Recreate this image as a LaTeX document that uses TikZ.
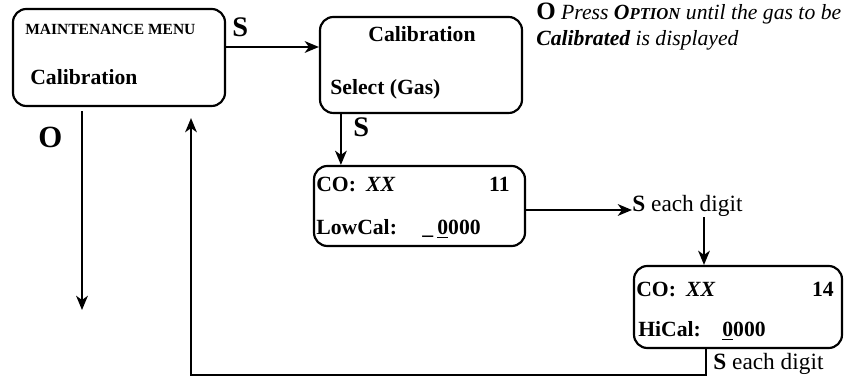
\documentclass[tikz,border=0pt]{standalone}
\usepackage{fontspec}
\setmainfont{Liberation Serif}
\usetikzlibrary{arrows.meta}

\tikzset{
  scrn/.style={draw, line width=1.3pt, rounded corners=8pt, inner sep=0pt},
  txt/.style={font=\fontsize{13}{15}\selectfont\bfseries, inner sep=0pt, anchor=base west},
  key/.style={font=\fontsize{17}{19}\selectfont\bfseries, inner sep=0pt, anchor=base west},
  note/.style={font=\fontsize{14}{16}\selectfont, inner sep=0pt, anchor=base west},
  arr/.style={-{Stealth[length=8.5pt, width=7pt, inset=2.5pt]}, line width=1.3pt},
}

\begin{document}
\begin{tikzpicture}[x=0.6pt, y=-0.6pt]
\useasboundingbox (0,0) rectangle (844,378);
% screens
\node[scrn, minimum width=127.2pt, minimum height=58.2pt] (menu) at (119,57.5) {};
\node[scrn, minimum width=121.2pt, minimum height=57.6pt] (gas) at (421,65) {};
\node[scrn, minimum width=126.6pt, minimum height=48pt] (low) at (419.5,206) {};
\node[scrn, minimum width=124.8pt, minimum height=49.2pt] (hi) at (738,307) {};
% screen texts
\node[txt, font=\fontsize{9.3}{11}\selectfont\bfseries] (menuhead) at (25,35) {MAINTENANCE MENU};
\node[txt] (menucal) at (30,85) {Calibration};
\node[txt, anchor=base] (gashead) at (422,42) {Calibration};
\node[txt] (gassel) at (330,95) {Select (Gas)};
\node[txt] (lowco) at (316,192) {CO:\hspace{6pt}\textit{XX}};
\node[txt, anchor=base east] (lownum) at (510,192) {11};
\node[txt] (lowcal) at (316,235) {LowCal:};
\node[txt] (lowbar) at (422,235) {\_};
\node[txt] (lowval) at (437,235) {\underline{0}000};
\node[txt] (hico) at (636,297) {CO:\hspace{6pt}\textit{XX}};
\node[txt, anchor=base east] (hinum) at (834,297) {14};
\node[txt] (hical) at (638,337) {HiCal:};
\node[txt] (hival) at (722,337) {\underline{0}000};
% key labels
\node[key] (s1) at (232,37) {S};
\node[key] (s2) at (353,137) {S};
\node[key, font=\fontsize{18.5}{20}\selectfont\bfseries] (o1) at (38,148) {O};
\node[note] (d1) at (632,212) {\textbf{S} each digit};
\node[note] (d2) at (713,370) {\textbf{S} each digit};
\node[note, anchor=north west, align=left, font=\fontsize{13}{15.6}\selectfont\itshape] (hint) at (536,3)
  {{\upshape\bfseries\fontsize{15}{15.6}\selectfont O} Press \textbf{O{\fontsize{10}{12}\selectfont PTION}} until the gas to be\\
   \textbf{Calibrated} is displayed};
% helper points
\coordinate (c1) at (704,0);
\coordinate (c2) at (706,375);
\coordinate (c3) at (191,375);
\coordinate (c4) at (82,310);
% connectors
\draw[arr] (menu.east) ++(0,-10.5) coordinate (m1) -- (m1 -| gas.west);
\draw[arr] (gas.south west) ++(22,0) coordinate (g1) -- (g1 |- low.north);
\draw[arr] (low.east) ++(0,4) coordinate (l1) -- (l1 -| d1.west);
\draw[arr] (d1.south -| c1) -- (c1 |- hi.north);
\draw[arr, shorten >=6.6pt] (hi.south -| c2) -- (c2) -- (c3) -- (c3 |- menu.south);
\draw[arr, shorten <=2.4pt] (c4 |- menu.south) -- (c4);
\end{tikzpicture}
\end{document}
